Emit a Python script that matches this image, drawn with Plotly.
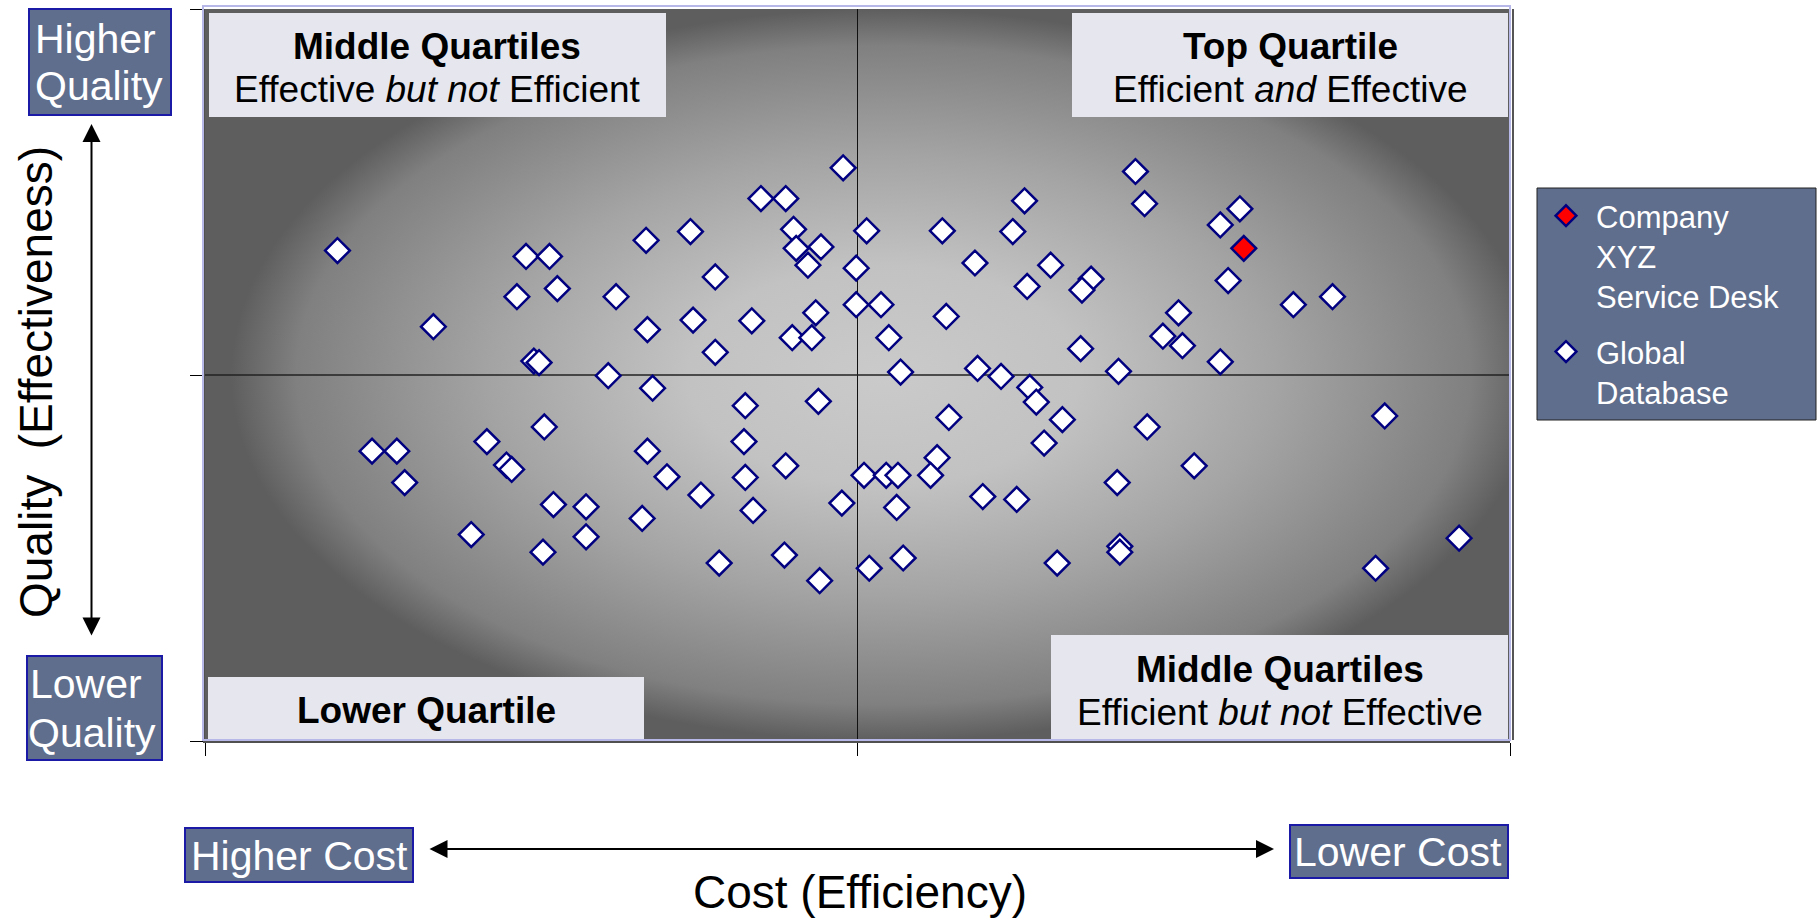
import base64
import plotly.graph_objects as go

# ---------------- data (cost = efficiency axis, quality = effectiveness axis, 0-100 scale) -------------
global_cost = [10.15, 48.9, 42.6, 44.5, 71.3, 62.8, 72.0, 79.3, 77.8, 24.6,
               26.4, 33.8, 37.2, 45.1, 45.3, 47.2, 50.7, 56.5, 61.9, 46.2,
               49.9, 59.0, 64.8, 39.1, 67.9, 67.2, 63.0, 78.4, 23.9, 27.0,
               31.5, 46.8, 49.9, 51.8, 83.4, 86.4, 17.5, 33.9, 37.4, 41.9,
               45.0, 46.5, 52.4, 56.8, 74.6, 73.4, 74.9, 39.1, 25.2, 25.6,
               67.1, 77.8, 53.3, 59.2, 61.0, 70.0, 30.9, 34.3, 63.2, 41.4,
               47.0, 63.7, 90.4, 57.0, 65.7, 26.0, 72.2, 12.8, 14.7, 21.6,
               33.9, 41.3, 56.1, 64.3, 23.1, 23.5, 15.3, 35.4, 41.4, 44.5,
               50.5, 52.2, 53.1, 55.6, 69.9, 75.8, 38.0, 26.7, 29.2, 33.5,
               42.0, 48.8, 53.0, 59.6, 62.2, 20.4, 29.2, 25.9, 39.4, 44.4,
               47.1, 50.9, 53.5, 65.3, 70.1, 70.1, 89.7, 96.1]
global_quality = [67.0, 78.3, 74.1, 74.1, 77.8, 73.8, 73.4, 72.7, 70.5, 66.2,
                  66.2, 68.4, 69.6, 69.9, 67.3, 67.5, 69.7, 69.7, 69.6, 65.0,
                  64.6, 65.3, 65.0, 63.4, 63.1, 61.6, 62.1, 62.9, 60.7, 61.8,
                  60.7, 58.5, 59.6, 59.6, 59.6, 60.7, 56.6, 56.2, 57.5, 57.4,
                  55.1, 55.1, 55.1, 58.0, 58.5, 55.3, 54.0, 53.1, 51.9, 51.7,
                  53.6, 51.8, 50.4, 50.9, 49.8, 50.5, 49.9, 48.2, 48.3, 45.8,
                  46.4, 46.3, 44.4, 44.2, 43.9, 42.9, 42.9, 39.6, 39.6, 40.9,
                  39.6, 40.9, 38.7, 40.7, 37.7, 37.1, 35.3, 36.1, 36.0, 37.6,
                  36.3, 36.3, 36.3, 36.3, 35.3, 37.6, 33.6, 32.3, 32.0, 30.4,
                  31.5, 32.5, 31.9, 33.4, 33.0, 28.2, 27.9, 25.8, 24.3, 25.4,
                  21.9, 23.6, 25.0, 24.3, 26.6, 25.8, 23.6, 27.7]
company_cost = [79.6]
company_quality = [67.3]

axis_range = [0, 100]
axis_ticks = [0, 50, 100]
series_names = ["Company<br>XYZ<br>Service Desk", "Global<br>Database"]

# ---------------- layout helpers (pixel -> paper) -------------
W, H = 1818, 920
PL, PR, PT, PB = 205, 1510, 9, 741


def px(x):
    return (x - PL) / (PR - PL)


def py(y):
    return (PB - y) / (PB - PT)


FONT = "Liberation Sans, Arial, sans-serif"

# radial gradient background as an SVG image
svg = (
    '<svg xmlns="http://www.w3.org/2000/svg" width="1305" height="732" viewBox="0 0 1305 732" '
    'preserveAspectRatio="none"><defs><radialGradient id="g" cx="0.52" cy="0.5" r="0.5" '
    'gradientUnits="objectBoundingBox">'
    '<stop offset="0" stop-color="#cacaca"/>'
    '<stop offset="0.3" stop-color="#c2c2c2"/>'
    '<stop offset="0.6" stop-color="#a4a4a4"/>'
    '<stop offset="0.9" stop-color="#808080"/>'
    '<stop offset="1" stop-color="#5e5e5e"/>'
    '</radialGradient></defs><rect width="1305" height="732" fill="url(#g)"/></svg>'
)
bg_src = "data:image/svg+xml;base64," + base64.b64encode(svg.encode()).decode()

fig = go.Figure()
fig.add_trace(go.Scatter(
    x=global_cost, y=global_quality, mode="markers", name=series_names[1],
    legendrank=2, legendgroup="g",
    marker=dict(symbol="diamond", size=19, color="white",
                line=dict(color="#000080", width=2.5)),
    hoverinfo="x+y",
))
fig.add_trace(go.Scatter(
    x=company_cost, y=company_quality, mode="markers", name=series_names[0],
    legendrank=1, legendgroup="c",
    marker=dict(symbol="diamond", size=19, color="#ff0000",
                line=dict(color="#000080", width=2.5)),
    hoverinfo="x+y",
))

shapes = []
# mid lines
shapes.append(dict(type="line", xref="x", yref="paper", x0=50, x1=50, y0=0, y1=1,
                   line=dict(color="#111111", width=1), layer="below"))
shapes.append(dict(type="line", xref="paper", yref="y", x0=0, x1=1, y0=50, y1=50,
                   line=dict(color="#222222", width=1.5), layer="below"))

# quadrant label boxes
QBOX = "#e6e6ef"
for (x0, y0, x1, y1) in [(209, 13, 666, 117), (1072, 13, 1508, 117),
                         (1051, 635, 1508, 739), (208, 677, 644, 739)]:
    shapes.append(dict(type="rect", xref="paper", yref="paper",
                       x0=px(x0), x1=px(x1), y0=py(y1), y1=py(y0),
                       fillcolor=QBOX, line=dict(width=0), layer="below"))

# plot frame
shapes.append(dict(type="rect", xref="paper", yref="paper", x0=px(203), x1=px(1510),
                   y0=py(740), y1=py(6), line=dict(color="#b8b8e8", width=2), layer="above"))
shapes.append(dict(type="line", xref="paper", yref="paper", x0=px(1513), x1=px(1513),
                   y0=py(740), y1=py(9), line=dict(color="#555555", width=2), layer="above"))

# outside label boxes
LBOX = "#5f6e8c"
LBORD = "#1a1aa6"
for (x0, y0, x1, y1) in [(29, 9, 171, 115), (27, 656, 162, 760),
                         (185, 828, 413, 882), (1290, 825, 1508, 878)]:
    shapes.append(dict(type="rect", xref="paper", yref="paper",
                       x0=px(x0), x1=px(x1), y0=py(y1), y1=py(y0),
                       fillcolor=LBOX, line=dict(color=LBORD, width=2), layer="above"))

# legend box
shapes.append(dict(type="rect", xref="paper", yref="paper",
                   x0=px(1537), x1=px(1816), y0=py(420), y1=py(188),
                   fillcolor=LBOX, line=dict(color="#222222", width=1), layer="above"))

ann = []


def text(t, x, y, size, color="black", xanchor="center", angle=0):
    ann.append(dict(text=t, x=px(x), y=py(y), xref="paper", yref="paper",
                    showarrow=False, xanchor=xanchor, yanchor="middle",
                    textangle=angle,
                    font=dict(family=FONT, size=size, color=color)))


QF = 37
text("<b>Middle Quartiles</b>", 437, 46, QF)
text("Effective <i>but not</i> Efficient", 437, 90, QF)
text("<b>Top Quartile</b>", 1290, 46, QF)
text("Efficient <i>and</i> Effective", 1290, 90, QF)
text("<b>Middle Quartiles</b>", 1280, 669, QF)
text("Efficient <i>but not</i> Effective", 1280, 712, QF)
text("<b>Lower Quartile</b>", 426, 710, QF)

LF = 41
text("Higher", 33, 39, LF, "white", "left")
text("Quality", 33, 86, LF, "white", "left")
text("Lower", 28, 684, LF, "white", "left")
text("Quality", 26, 733, LF, "white", "left")
text("Higher Cost", 299, 856, LF, "white")
text("Lower Cost", 1398, 852, LF, "white")

text("Cost (Efficiency)", 860, 892, 46)
text("Quality  (Effectiveness)", 36, 382, 46, angle=-90)

# arrows
ann.append(dict(text="", x=px(91.5), y=py(124), xref="paper", yref="paper",
                ax=0, ay=513, showarrow=True, arrowside="end+start",
                arrowhead=2, startarrowhead=2, arrowsize=1.8, startarrowsize=1.8,
                arrowwidth=2, arrowcolor="black", standoff=0, startstandoff=0))
ann.append(dict(text="", x=px(1274), y=py(849), xref="paper", yref="paper",
                ax=-846, ay=0, showarrow=True, arrowside="end+start",
                arrowhead=2, startarrowhead=2, arrowsize=1.8, startarrowsize=1.8,
                arrowwidth=2, arrowcolor="black", standoff=0, startstandoff=0))

axis_common = dict(range=axis_range, tickvals=axis_ticks, showticklabels=False,
                   ticks="outside", ticklen=13, tickwidth=1, tickcolor="black",
                   showline=True, linecolor="#505050", linewidth=2,
                   showgrid=False, zeroline=False, fixedrange=True)

fig.update_layout(
    width=W, height=H,
    margin=dict(l=PL, r=W - PR, t=PT, b=H - PB, pad=0),
    paper_bgcolor="white", plot_bgcolor="#5e5e5e",
    xaxis=axis_common, yaxis=axis_common,
    shapes=shapes, annotations=ann,
    images=[dict(source=bg_src, xref="paper", yref="paper", x=0, y=1,
                 sizex=1, sizey=1, xanchor="left", yanchor="top",
                 sizing="stretch", layer="below")],
    showlegend=True,
    legend=dict(x=px(1536), y=py(189), xanchor="left", yanchor="top",
                bgcolor="rgba(0,0,0,0)", borderwidth=0, itemwidth=50,
                font=dict(family=FONT, size=31, color="white"),
                valign="top", traceorder="grouped", tracegroupgap=12),
    font=dict(family=FONT),
)

fig.write_html("out.html", config={"displayModeBar": False},
               post_script="document.body.style.margin='0';")
